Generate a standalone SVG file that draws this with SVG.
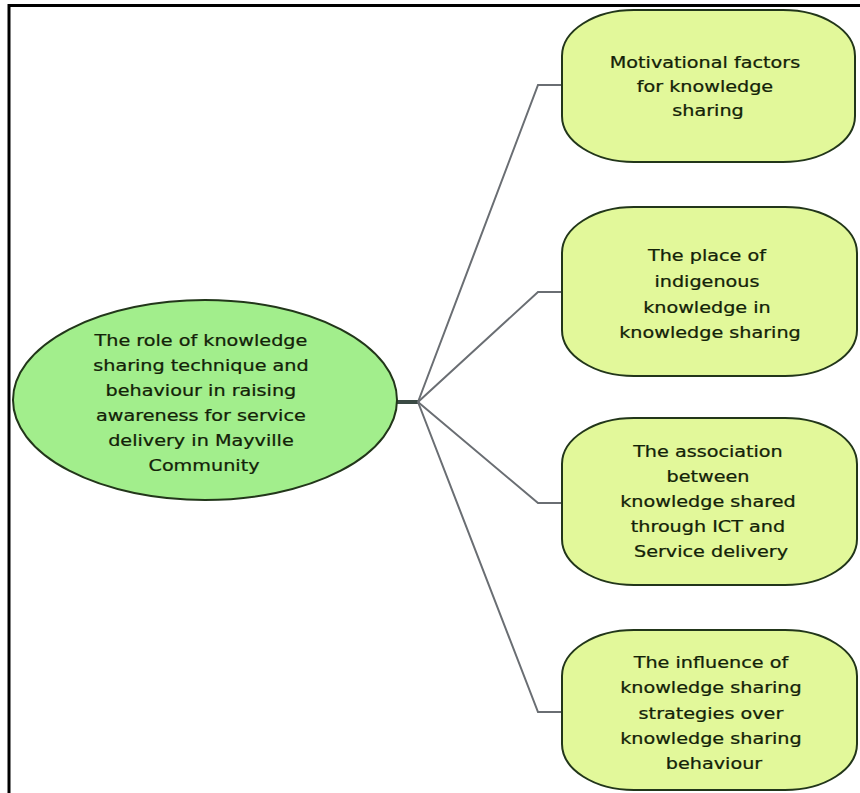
<svg xmlns="http://www.w3.org/2000/svg" width="860" height="793" viewBox="0 0 860 793">
  <style>
    .frame { fill: #ffffff; stroke: #000000; stroke-width: 3; }
    .topic { fill: #e2f89a; stroke: #22361a; stroke-width: 2; }
    .root { fill: #a2ee8c; stroke: #22361a; stroke-width: 2; }
    .label { font-family: "DejaVu Sans", Verdana, sans-serif; font-size: 16px; fill: #132208; text-anchor: middle; stroke: #132208; stroke-width: 0.25; }
    .branch { fill: none; stroke: #6a6e73; stroke-width: 2; stroke-linejoin: miter; }
    .stem { fill: none; stroke: #3a4a44; stroke-width: 4; }
  </style>

  <rect class="frame" x="9" y="5.5" width="880" height="820"/>

  <!-- connectors: stem from the root, then a fan of elbow branches -->
  <g id="connectors">
    <line class="stem" x1="396" y1="402" x2="418" y2="402"/>
    <polyline class="branch" points="418,402 538,85 563,85"/>
    <polyline class="branch" points="418,402 538,292 563,292"/>
    <polyline class="branch" points="418,402 538,503 563,503"/>
    <polyline class="branch" points="418,402 538,712 563,712"/>
  </g>

  <g id="root">
    <ellipse class="root" cx="205" cy="400" rx="192" ry="100"/>
    <text class="label" transform="matrix(1.2 0 0 1 204 0)">
      <tspan x="0" y="346">The role of knowledge</tspan>
      <tspan x="0" y="371">sharing technique and</tspan>
      <tspan x="0" y="396">behaviour in raising</tspan>
      <tspan x="0" y="421">awareness for service</tspan>
      <tspan x="0" y="446">delivery in Mayville</tspan>
      <tspan x="0" y="471">Community</tspan>
    </text>
  </g>

  <g id="motivational-factors">
    <rect class="topic" x="562" y="10" width="293" height="152" rx="72" ry="46"/>
    <text class="label" transform="matrix(1.2 0 0 1 708 0)">
      <tspan x="0" y="68">Motivational factors</tspan>
      <tspan x="0" y="92">for knowledge</tspan>
      <tspan x="0" y="116">sharing</tspan>
    </text>
  </g>

  <g id="indigenous-knowledge">
    <rect class="topic" x="562" y="207" width="295" height="169" rx="72" ry="46"/>
    <text class="label" transform="matrix(1.2 0 0 1 710 0)">
      <tspan x="0" y="261">The place of</tspan>
      <tspan x="0" y="287">indigenous</tspan>
      <tspan x="0" y="313">knowledge in</tspan>
      <tspan x="0" y="338">knowledge sharing</tspan>
    </text>
  </g>

  <g id="ict-association">
    <rect class="topic" x="562" y="418" width="295" height="167" rx="72" ry="46"/>
    <text class="label" transform="matrix(1.2 0 0 1 711 0)">
      <tspan x="0" y="457">The association</tspan>
      <tspan x="0" y="482">between</tspan>
      <tspan x="0" y="507">knowledge shared</tspan>
      <tspan x="0" y="532">through ICT and</tspan>
      <tspan x="0" y="557">Service delivery</tspan>
    </text>
  </g>

  <g id="sharing-strategies">
    <rect class="topic" x="562" y="630" width="295" height="160" rx="72" ry="46"/>
    <text class="label" transform="matrix(1.2 0 0 1 714 0)">
      <tspan x="0" y="668">The influence of</tspan>
      <tspan x="0" y="693">knowledge sharing</tspan>
      <tspan x="0" y="719">strategies over</tspan>
      <tspan x="0" y="744">knowledge sharing</tspan>
      <tspan x="0" y="769">behaviour</tspan>
    </text>
  </g>
</svg>
